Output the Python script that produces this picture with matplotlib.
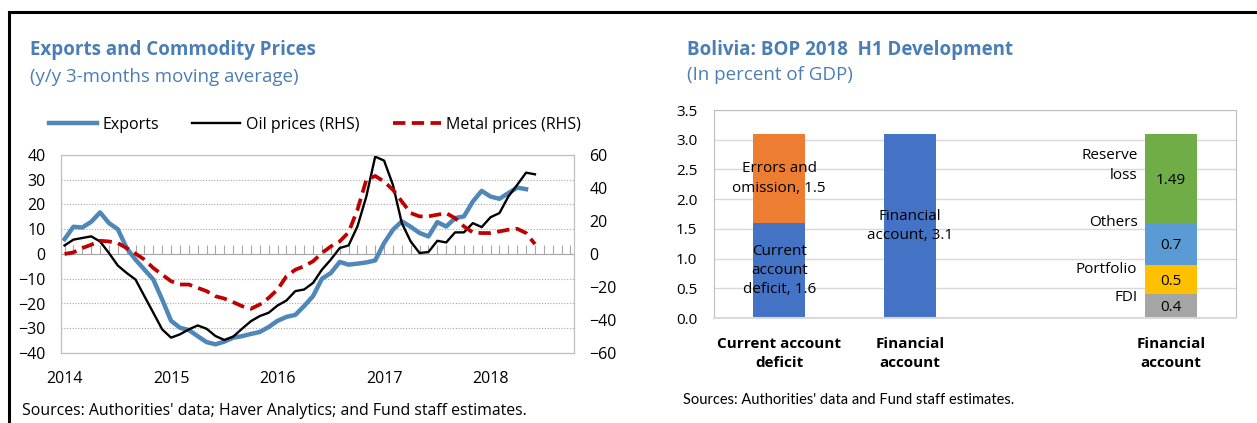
import numpy as np
import matplotlib.pyplot as plt
from matplotlib.lines import Line2D

# ============================
# data: left chart, y/y % change (3-month moving average), monthly from Jan 2014
# ============================
exports = [6, 11, 10.7, 13, 16.8, 12.5, 10, 2.4, -2.3, -6.3,
           -10.3, -18.4, -27, -29.8, -30.7, -33.2, -35.6, -36.5, -35.4, -33.8,
           -33.2, -32.3, -31.5, -29.5, -27, -25.4, -24.6, -21, -17, -10,
           -7.7, -3.2, -4.3, -3.9, -3.4, -2.6, 4.4, 9.8, 13.2, 11,
           8.5, 7.1, 12.9, 11.1, 14.5, 15.2, 21.2, 25.5, 23.2, 22.3,
           24.6, 26.8, 26.2]
oil_prices = [5.2, 8.7, 9.7, 10.7, 7.6, 0.6, -7, -11.5, -15.5, -25.6,
              -35.6, -45.7, -50.7, -48.7, -45.7, -43.3, -45.3, -49.7, -52.1, -50.1,
              -45.3, -40.7, -37.6, -35.6, -31.2, -28.2, -22.5, -21.5, -17.5, -9.5,
              -3.4, 3.6, 5.2, 16.7, 34.8, 59, 56.6, 41.9, 18.7, 7.6,
              0.6, 1.2, 8, 7, 13.1, 13.1, 18.7, 16.3, 22.3, 24.8,
              34.8, 41.9, 49.3, 48.3]
metal_prices = [0, 1, 3.6, 5.6, 8, 7.6, 6.6, 3.6, 0.2, -3.4,
                -8.5, -12.5, -16.5, -18.5, -18.5, -20.5, -22.5, -25.6, -27, -29.2,
                -31.6, -33.2, -30.6, -26.6, -21.5, -13.5, -9.5, -7.4, -4.4, 0.6,
                4.6, 7.6, 13.1, 26.8, 44.9, 47.3, 43.9, 38.9, 31.8, 24.8,
                22.8, 22.8, 23.8, 24.8, 21.7, 16.7, 13.1, 12.7, 12.7, 13.7,
                14.7, 15.3, 12.7, 6]
year_labels = ['2014', '2015', '2016', '2017', '2018']

# ============================
# data: right chart, BOP 2018 H1 (percent of GDP)
# ============================
bop_categories = ['Current account\ndeficit', 'Financial\naccount', '', 'Financial\naccount']
ca_deficit = 1.6
errors_omission = 1.5
financial_account = 3.1
fin_parts = [0.4, 0.5, 0.7, 1.49]
fin_part_names = ['FDI', 'Portfolio', 'Others', 'Reserve\nloss']

title_color = '#4A7EB5'
font = 'Open Sans'

fig = plt.figure(figsize=(12.57, 4.23), dpi=100)
W, H = 1257, 423

# ---- left chart ----
ax = fig.add_axes([61 / W, 1 - 353 / H, 513 / W, 198 / H])
ax2 = ax.twinx()
months = np.arange(len(exports))
ax.plot(months, exports, color='#4F87B8', lw=3.2, zorder=3, label='Exports')
ax2.plot(np.arange(len(oil_prices)), oil_prices, color='black', lw=1.7,
         label='Oil prices (RHS)')
ax2.plot(np.arange(len(metal_prices)), metal_prices, color='#C00000', lw=2.7,
         dashes=(3.3, 1.7), label='Metal prices (RHS)')

ax.set_xlim(-0.4, 57.4)
ax.set_ylim(-40, 40)
ax2.set_ylim(-60, 60)
ax.set_yticks(np.arange(-40, 41, 10))
ax2.set_yticks(np.arange(-60, 61, 20))
ax.set_xticks(np.arange(len(year_labels)) * 12, year_labels)
ax.grid(axis='y', ls=(0, (1, 1.5)), color='#A6A6A6', lw=0.8)
ax.tick_params(axis='x', length=0, pad=13)
ax.tick_params(axis='y', length=0, pad=11)
ax2.tick_params(axis='y', length=0, pad=11)
for a in (ax, ax2):
    for s in a.spines.values():
        s.set_color('#BFBFBF')
    for lab in a.get_xticklabels() + a.get_yticklabels():
        lab.set_fontfamily(font)
        lab.set_fontsize(11.5)

# monthly category ticks along the zero line
zero_axis = ax.secondary_xaxis(0.5)
zero_axis.set_xticks(np.arange(0, 58))
zero_axis.tick_params(length=6.5, color='#A6A6A6', labeltop=False, labelbottom=False)
for s in zero_axis.spines.values():
    s.set_color('#A6A6A6')

h1, l1 = ax.get_legend_handles_labels()
h2, l2 = ax2.get_legend_handles_labels()
fig.legend(h1 + h2, l1 + l2, loc='center', bbox_to_anchor=(315 / W, 1 - 125 / H),
           ncol=3, frameon=False, handlelength=3.0, columnspacing=2.1,
           handletextpad=0.35, prop={'family': font, 'size': 11.5})

fig.text(30 / W, 1 - 50 / H, 'Exports and Commodity Prices', fontsize=13.5,
         weight='bold', color=title_color, family=font, va='center')
fig.text(30 / W, 1 - 77 / H, '(y/y 3-months moving average)', fontsize=13.5,
         color=title_color, family=font, va='center')
fig.text(22 / W, 1 - 411 / H,
         "Sources: Authorities' data; Haver Analytics; and Fund staff estimates.",
         fontsize=11.4, family=font, va='center')

# ---- right chart ----
axr = fig.add_axes([714 / W, 1 - 318 / H, 522 / W, 208 / H])
xpos = np.arange(len(bop_categories))
bw = 0.40
c_blue, c_orange = '#4472C4', '#ED7D31'
part_colors = ['#A5A5A5', '#FFC000', '#5B9BD5', '#70AD47']

axr.bar(xpos[0], ca_deficit, bw, color=c_blue, zorder=2)
axr.bar(xpos[0], errors_omission, bw, bottom=ca_deficit, color=c_orange, zorder=2)
axr.bar(xpos[1], financial_account, bw, color=c_blue, zorder=2)
txt = dict(ha='center', va='center', fontsize=11, family=font, zorder=4,
           linespacing=1.4)
axr.text(xpos[0], ca_deficit / 2, f'Current\naccount\ndeficit, {ca_deficit}', **txt)
axr.text(xpos[0], ca_deficit + errors_omission / 2,
         f'Errors and\nomission, {errors_omission}', **txt)
axr.text(xpos[1], financial_account / 2, f'Financial\naccount, {financial_account}', **txt)

side_offsets = [-0.06, -0.08, 0.015, -0.525]
bottom = 0
for val, name, col, off in zip(fin_parts, fin_part_names, part_colors, side_offsets):
    axr.bar(xpos[3], val, bw, bottom=bottom, color=col, zorder=2)
    axr.text(xpos[3], bottom + val / 2 - 0.03, f'{val}', **txt)
    axr.text(xpos[3] - bw / 2 - 0.055, bottom + val + off, name, ha='right',
             va='center', fontsize=11, family=font, linespacing=1.4)
    bottom += val

axr.set_xlim(-0.5, 3.5)
axr.set_ylim(0, 3.5)
axr.set_yticks(np.arange(0, 3.51, 0.5), [f'{v:.1f}' for v in np.arange(0, 3.51, 0.5)])
axr.set_xticks(xpos, bop_categories)
axr.grid(axis='y', color='#D9D9D9', lw=1, zorder=0)
axr.set_axisbelow(True)
axr.tick_params(length=0)
axr.tick_params(axis='x', pad=14)
axr.tick_params(axis='y', pad=12)
for s in axr.spines.values():
    s.set_color('#BFBFBF')
axr.spines['bottom'].set_color('#D9D9D9')
axr.spines['bottom'].set_linewidth(1.5)
for lab in axr.get_xticklabels():
    lab.set_fontfamily(font)
    lab.set_fontweight('bold')
    lab.set_fontsize(11)
    lab.set_linespacing(1.4)
for lab in axr.get_yticklabels():
    lab.set_fontfamily(font)
    lab.set_fontsize(11)

fig.text(687 / W, 1 - 50 / H, 'Bolivia: BOP 2018  H1 Development', fontsize=13.5,
         weight='bold', color=title_color, family=font, va='center')
fig.text(687 / W, 1 - 75 / H, '(In percent of GDP)', fontsize=13.5,
         color=title_color, family=font, va='center')
fig.text(683 / W, 1 - 400 / H, "Sources: Authorities' data and Fund staff estimates.",
         fontsize=10.5, family='Lato', va='center')

# ---- outer frame (top and left edges) ----
fig.add_artist(Line2D([9 / W, 1], [1 - 12 / H, 1 - 12 / H], color='black', lw=2.2))
fig.add_artist(Line2D([9 / W, 9 / W], [0, 1 - 12 / H], color='black', lw=2.2))

fig.savefig('out.png', dpi=100)
